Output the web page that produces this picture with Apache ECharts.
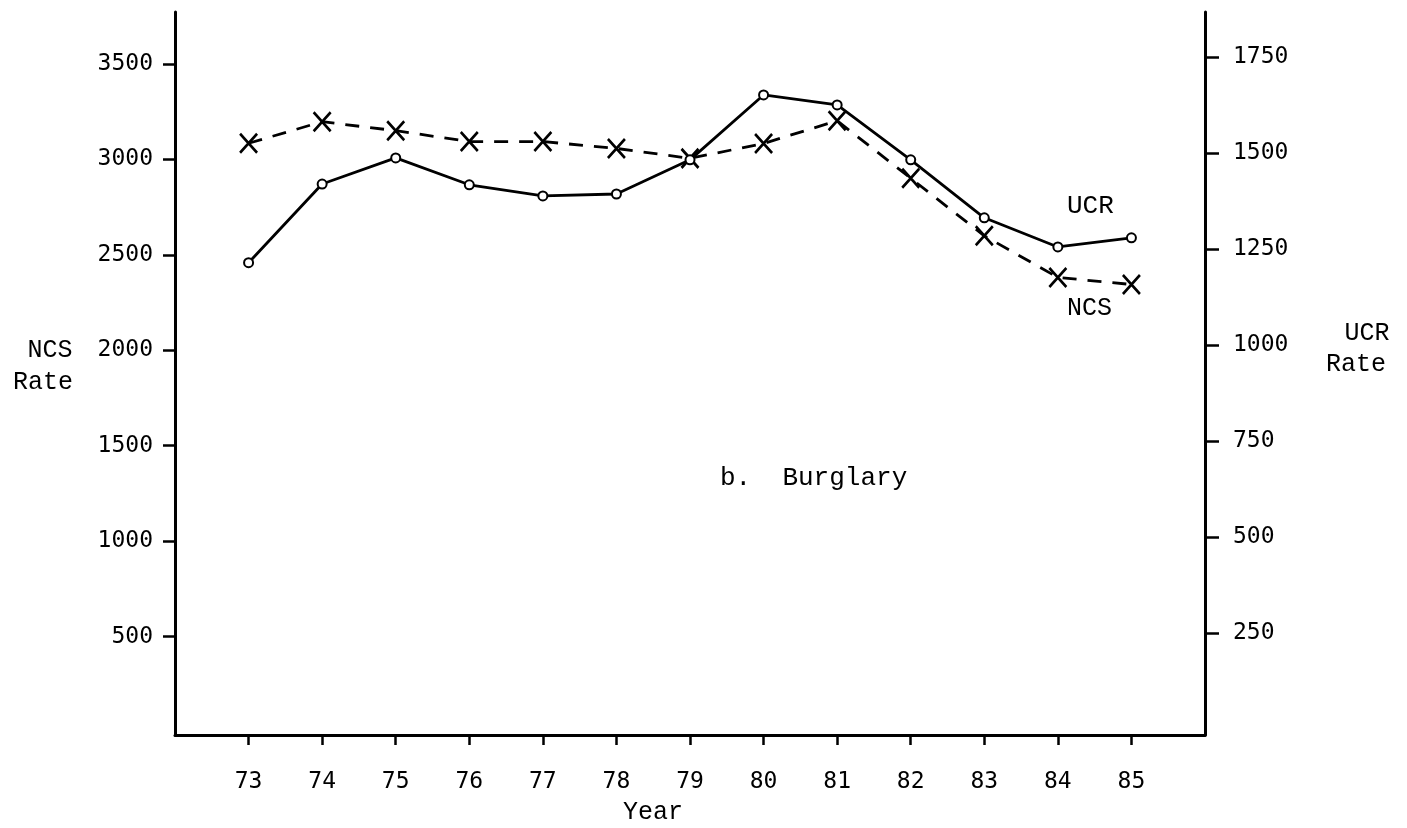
<!DOCTYPE html>
<html>
<head>
<meta charset="utf-8">
<script src="https://cdn.jsdelivr.net/npm/echarts@6/dist/echarts.min.js"></script>
<style>
html,body{margin:0;padding:0;background:#fff;}
#chart{width:1407px;height:828px;}
</style>
</head>
<body>
<div id="chart"></div>
<script>
const years = [73, 74, 75, 76, 77, 78, 79, 80, 81, 82, 83, 84, 85];
const ncsRate = [3085, 3198, 3151, 3094, 3094, 3058, 3006, 3084, 3203, 2902, 2600, 2382, 2345];
const ucrRate = [1214, 1419, 1487, 1417, 1388, 1393, 1482, 1651, 1625, 1482, 1331, 1255, 1279];
const ncsTicks = [500, 1000, 1500, 2000, 2500, 3000, 3500];
const ucrTicks = [250, 500, 750, 1000, 1250, 1500, 1750];

const numFont = 'DejaVu Sans Mono';
const wordFont = 'Liberation Mono';

const chart = echarts.init(document.getElementById('chart'), null, {renderer: 'canvas'});

function txt(text, x, y, align, size) {
  return {
    type: 'text', x: x, y: y, silent: true,
    style: {text: text, fill: '#000', font: (size || 25) + 'px "' + wordFont + '"', textAlign: align, textVerticalAlign: 'middle'}
  };
}

const axisLineStyle = {color: '#000', width: 3};
const plain = v => String(v);

chart.setOption({
  backgroundColor: '#fff',
  animation: false,
  grid: {left: 175, right: 202, top: 12, bottom: 93},
  xAxis: {
    type: 'value', min: 72, max: 86,
    axisLine: {show: true, onZero: false, lineStyle: axisLineStyle},
    axisTick: {show: true, customValues: years, length: 10, lineStyle: {color: '#000', width: 2.5}},
    axisLabel: {customValues: years, formatter: plain, margin: 36, fontFamily: numFont, fontSize: 23, color: '#000'},
    splitLine: {show: false}
  },
  yAxis: [
    {
      type: 'value', position: 'left', min: -16, max: 3773,
      axisLine: {show: true, onZero: false, lineStyle: axisLineStyle},
      axisTick: {show: true, customValues: ncsTicks, length: 12, lineStyle: {color: '#000', width: 2.5}},
      axisLabel: {customValues: ncsTicks, formatter: plain, margin: 22, fontFamily: numFont, fontSize: 23, color: '#000'},
      splitLine: {show: false}
    },
    {
      type: 'value', position: 'right', min: -16, max: 1867,
      axisLine: {show: true, onZero: false, lineStyle: axisLineStyle},
      axisTick: {show: true, customValues: ucrTicks, length: 14, lineStyle: {color: '#000', width: 2.5}},
      axisLabel: {customValues: ucrTicks, formatter: plain, margin: 28, fontFamily: numFont, fontSize: 23, color: '#000'},
      splitLine: {show: false}
    }
  ],
  series: [
    {
      name: 'NCS', type: 'line', yAxisIndex: 0,
      data: years.map((y, i) => [y, ncsRate[i]]),
      lineStyle: {color: '#000', width: 2.8, type: [14, 11]},
      symbol: 'path://M0,0L10,10M10,0L0,10',
      symbolSize: [17, 19],
      itemStyle: {color: '#000', borderColor: '#000', borderWidth: 2.8},
      z: 3
    },
    {
      name: 'UCR', type: 'line', yAxisIndex: 1,
      data: years.map((y, i) => [y, ucrRate[i]]),
      lineStyle: {color: '#000', width: 2.8},
      symbol: 'emptyCircle', symbolSize: 9,
      itemStyle: {color: '#000', borderColor: '#000', borderWidth: 2.8},
      z: 4
    }
  ],
  graphic: [
    txt('NCS', 50, 350, 'center'),
    txt('Rate', 43, 382, 'center'),
    txt('UCR', 1367, 333, 'center'),
    txt('Rate', 1356, 364, 'center'),
    txt('UCR', 1067, 206, 'left', 26),
    txt('NCS', 1067, 308, 'left', 25),
    txt('b.  Burglary', 720, 478, 'left', 26),
    txt('Year', 653, 812, 'center')
  ]
});
</script>
</body>
</html>
